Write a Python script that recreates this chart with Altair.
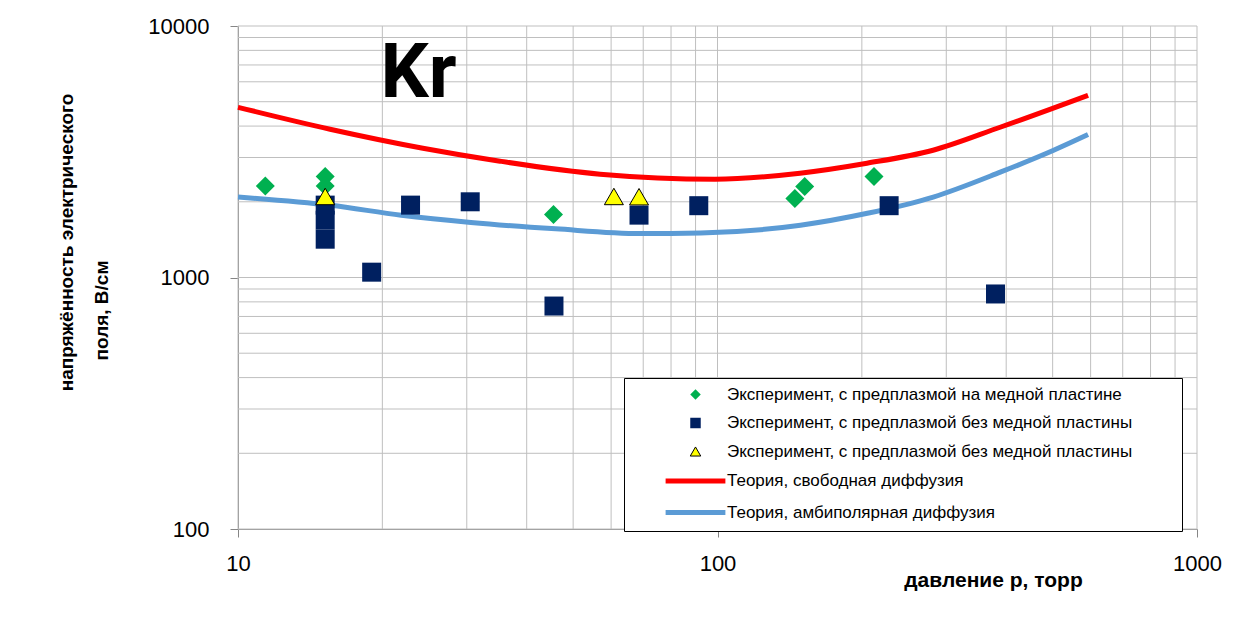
import altair as alt
import pandas as pd

# ---------------- data ----------------
green_p = [11.4, 15.2, 15.2, 45.5, 145, 152, 212]
green_e = [2310, 2520, 2310, 1780, 2060, 2300, 2520]

navy_p = [15.2, 15.2, 15.2, 19.0, 22.9, 30.5, 45.6, 68.6, 91.4, 228, 380]
navy_e = [1940, 1690, 1420, 1050, 1940, 2000, 770, 1770, 1930, 1930, 860]

yellow_p = [15.2, 60.8, 68.6]
yellow_e = [2100, 2100, 2095]

free_p = [10, 15.56, 24.3, 35.2, 56.9, 98.8, 148.6, 205, 281.5, 388.5, 592.6]
free_e = [4752, 3887, 3266, 2901, 2575, 2460, 2599, 2847, 3207, 3958, 5304]

amb_p = [10, 15.6, 21.9, 30.6, 46, 69.1, 92.2, 148.9, 205.4, 281.8, 388.8, 501, 592.6]
amb_e = [2089, 1937, 1768, 1655, 1561, 1496, 1504, 1614, 1800, 2089, 2623, 3198, 3701]

series_keys = ["s1", "s2", "s3", "s4", "s5"]
series_labels = [
    "Эксперимент, с предплазмой на медной пластине",
    "Эксперимент, с предплазмой без медной пластины",
    "Эксперимент, с предплазмой без медной пластины",
    "Теория, свободная диффузия",
    "Теория, амбиполярная диффузия",
]
fill_colors = ["#00B050", "#002060", "#FFFF00", "#FF0000", "#5B9BD5"]
stroke_colors = ["transparent", "transparent", "#000000", "#FF0000", "#5B9BD5"]
stroke_widths = [0, 0, 1, 5, 5]
shapes = ["diamond", "square", "triangle-up", "M-5.7,0H5.7", "M-5.7,0H5.7"]

x_ticks = [10, 100, 1000]
y_ticks = [100, 1000, 10000]
x_grid = [10, 20, 30, 40, 50, 60, 70, 80, 90, 100, 200, 300, 400, 500, 600, 700, 800, 900, 1000]
y_grid = [100, 200, 300, 400, 500, 600, 700, 800, 900, 1000,
          2000, 3000, 4000, 5000, 6000, 7000, 8000, 9000, 10000]

note_text = ["Kr"]
note_p = [23.8]
note_e = [5200]

x_title = "давление р, торр"
y_title_1 = "напряжённость электрического"
y_title_2 = "поля, В/см"

# ---------------- tables ----------------
points_df = pd.DataFrame({
    "p": green_p + navy_p + yellow_p,
    "e": green_e + navy_e + yellow_e,
    "series": ["s1"] * len(green_p) + ["s2"] * len(navy_p) + ["s3"] * len(yellow_p),
})
free_df = pd.DataFrame({"p": free_p, "e": free_e})
amb_df = pd.DataFrame({"p": amb_p, "e": amb_e})
xgrid_df = pd.DataFrame({"p": x_grid})
ygrid_df = pd.DataFrame({"e": y_grid})
note_df = pd.DataFrame({"p": note_p, "e": note_e, "t": note_text})

FONT = "Liberation Sans"
GRID = "#BFBFBF"
AXIS = "#868686"

xs = alt.Scale(type="log", domain=[10, 1000], nice=False)
ys = alt.Scale(type="log", domain=[100, 10000], nice=False)

label_expr = " : ".join(
    f"datum.value == '{k}' ? '{lab}'" for k, lab in zip(series_keys, series_labels)
) + " : ''"

legend = alt.Legend(
    orient="none", legendX=386, legendY=352, title=" ", titleOrient="right",
    titlePadding=42, titleFontSize=8,
    labelExpr=label_expr, labelFont=FONT, labelFontSize=17, labelColor="black",
    labelLimit=800,
    symbolSize=110, symbolOffset=55, labelOffset=23, rowPadding=10.5,
    padding=8, strokeColor="black", fillColor="white",
)

x_axis = alt.Axis(
    values=x_ticks, format="d", grid=False, tickSize=8, tickColor=AXIS,
    domainColor=AXIS, labelFont=FONT, labelFontSize=22, labelColor="black",
    labelPadding=16, labelFlush=False, title=x_title, titleFont=FONT,
    titleFontSize=21, titleFontWeight="bold", titleColor="black",
    titleX=755, titleY=51, titleAlign="center", titleBaseline="middle",
)
y_axis = alt.Axis(
    values=y_ticks, format="d", grid=False, tickSize=8, tickColor=AXIS,
    domainColor=AXIS, labelFont=FONT, labelFontSize=22, labelColor="black",
    labelPadding=21, labelFlush=False, title=y_title_1, titleFont=FONT,
    titleFontSize=19, titleFontWeight="bold", titleColor="black",
    titleAngle=270, titleX=-172, titleY=216, titleAlign="center",
    titleBaseline="middle",
)

X = alt.X("p:Q", scale=xs, axis=x_axis)
Y = alt.Y("e:Q", scale=ys, axis=y_axis)

xgrid = alt.Chart(xgrid_df).mark_rule(color=GRID, strokeWidth=1).encode(x=X)
ygrid = alt.Chart(ygrid_df).mark_rule(color=GRID, strokeWidth=1).encode(y=Y)

free_line = alt.Chart(free_df).mark_line(
    color=fill_colors[3], strokeWidth=5, interpolate="monotone"
).encode(x=X, y=Y)
amb_line = alt.Chart(amb_df).mark_line(
    color=fill_colors[4], strokeWidth=5, interpolate="monotone"
).encode(x=X, y=Y)

pts = alt.Chart(points_df).mark_point(filled=True, opacity=1, size=361).encode(
    x=X, y=Y,
    fill=alt.Fill("series:N", scale=alt.Scale(domain=series_keys, range=fill_colors), legend=legend),
    stroke=alt.Stroke("series:N", scale=alt.Scale(domain=series_keys, range=stroke_colors), legend=legend),
    shape=alt.Shape("series:N", scale=alt.Scale(domain=series_keys, range=shapes), legend=legend),
    strokeWidth=alt.StrokeWidth("series:N", scale=alt.Scale(type="ordinal", domain=series_keys, range=stroke_widths), legend=legend),
)

note = alt.Chart(note_df).mark_text(
    font="Liberation Sans Narrow, Roboto", fontSize=76, fontWeight="bold",
    align="center", baseline="alphabetic", color="black",
).encode(x=X, y=Y, text="t:N")

chart = alt.layer(xgrid, ygrid, free_line, amb_line, pts, note).properties(
    width=959, height=503,
    autosize=alt.AutoSizeParams(type="none"),
    padding={"left": 230, "top": 18, "right": 30, "bottom": 80},
    background="white",
    title=alt.TitleParams(
        text=y_title_2, orient="left", anchor="middle", font=FONT, fontSize=19,
        fontWeight="bold", color="black", baseline="middle", offset=0,
        dx=-33, dy=64,
    ),
).configure_view(stroke=None)

chart.save("out.html", embed_options={"renderer": "svg", "actions": False})
